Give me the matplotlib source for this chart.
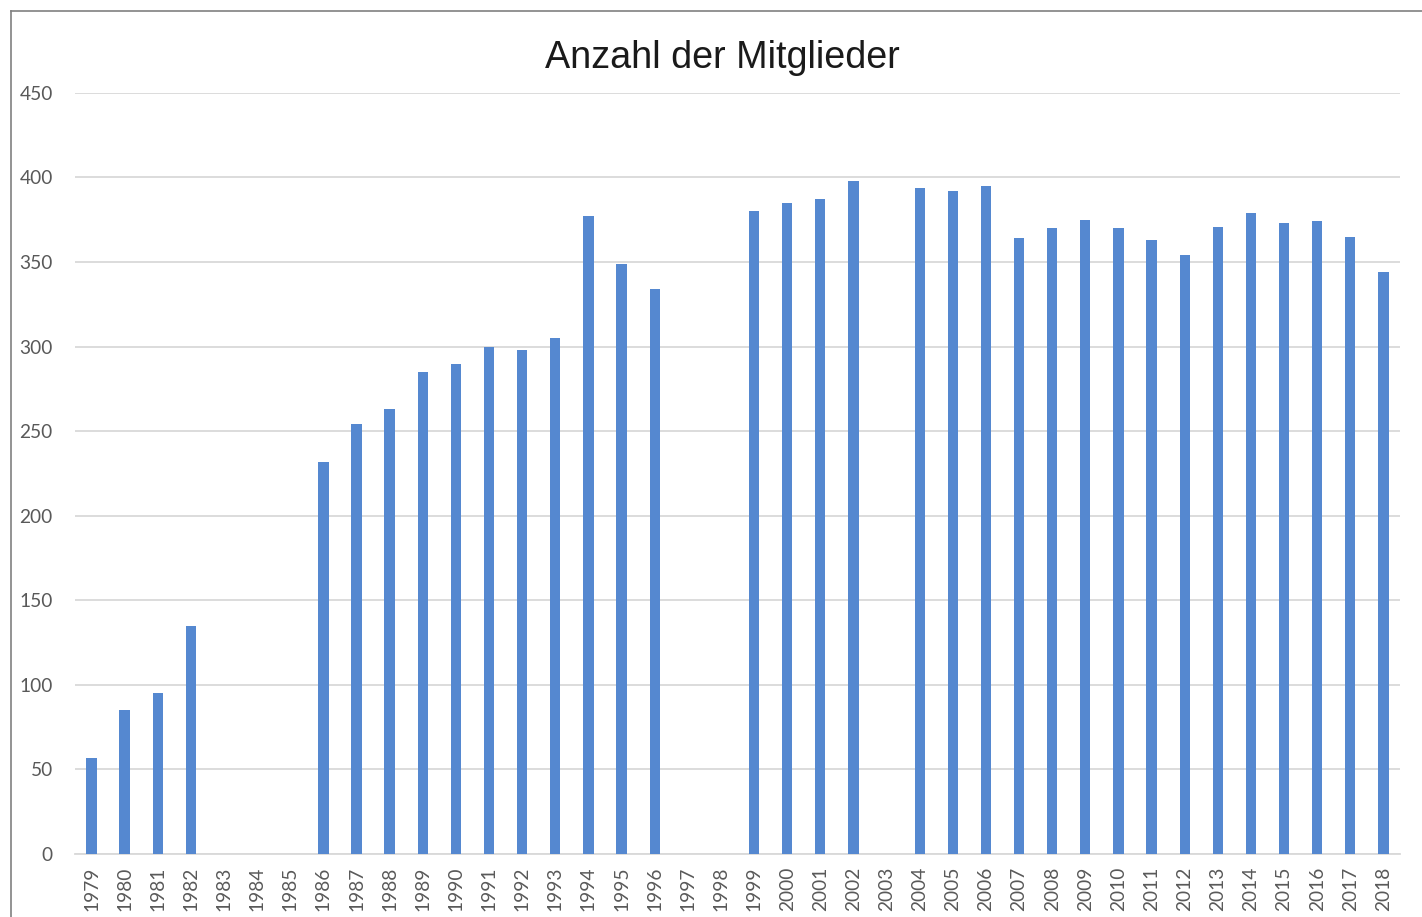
import matplotlib.pyplot as plt
from matplotlib.lines import Line2D

years = [str(y) for y in range(1979, 2019)]
members = [57, 85, 95, 135, 0, 0, 0, 232, 254, 263,
           285, 290, 300, 298, 305, 377, 349, 334, 0, 0,
           380, 385, 387, 398, 0, 394, 392, 395, 364, 370,
           375, 370, 363, 354, 371, 379, 373, 374, 365, 344]

plt.rcParams['font.family'] = ['Lato', 'DejaVu Sans']

fig = plt.figure(figsize=(14.22, 9.17), dpi=100)
ax = fig.add_axes([0.0527, 0.0687, 0.9318, 0.830])

x = range(len(years))
ax.bar(x, members, width=0.31, color='#5588d0', zorder=3)

ax.set_xlim(-0.5, len(years) - 0.5)
ax.set_ylim(0, 450)
ax.set_yticks(range(0, 451, 50))
ax.set_xticks(list(x))
ax.set_xticklabels(years, rotation=90)
ax.tick_params(axis='y', length=0, pad=16, labelsize=13.8, labelcolor='#595959')
ax.tick_params(axis='x', length=0, pad=9, labelsize=13.8, labelcolor='#595959')
ax.grid(axis='y', color='#d9d9d9', linewidth=1.3, zorder=0)
for s in ['top', 'right', 'left']:
    ax.spines[s].set_visible(False)
ax.spines['bottom'].set_color('#d9d9d9')
ax.spines['bottom'].set_linewidth(1.3)

fig.text(0.508, 0.937, 'Anzahl der Mitglieder', ha='center', va='center',
         fontsize=27.2, family=['Liberation Sans', 'DejaVu Sans'], color='#1a1a1a')

# outer frame of the chart area (top and left edges)
fig.add_artist(Line2D([11 / 1422, 1], [1 - 11 / 917, 1 - 11 / 917],
                      color='#808080', linewidth=1.2, transform=fig.transFigure))
fig.add_artist(Line2D([11 / 1422, 11 / 1422], [0, 1 - 11 / 917],
                      color='#808080', linewidth=1.2, transform=fig.transFigure))

fig.savefig('out.png')
